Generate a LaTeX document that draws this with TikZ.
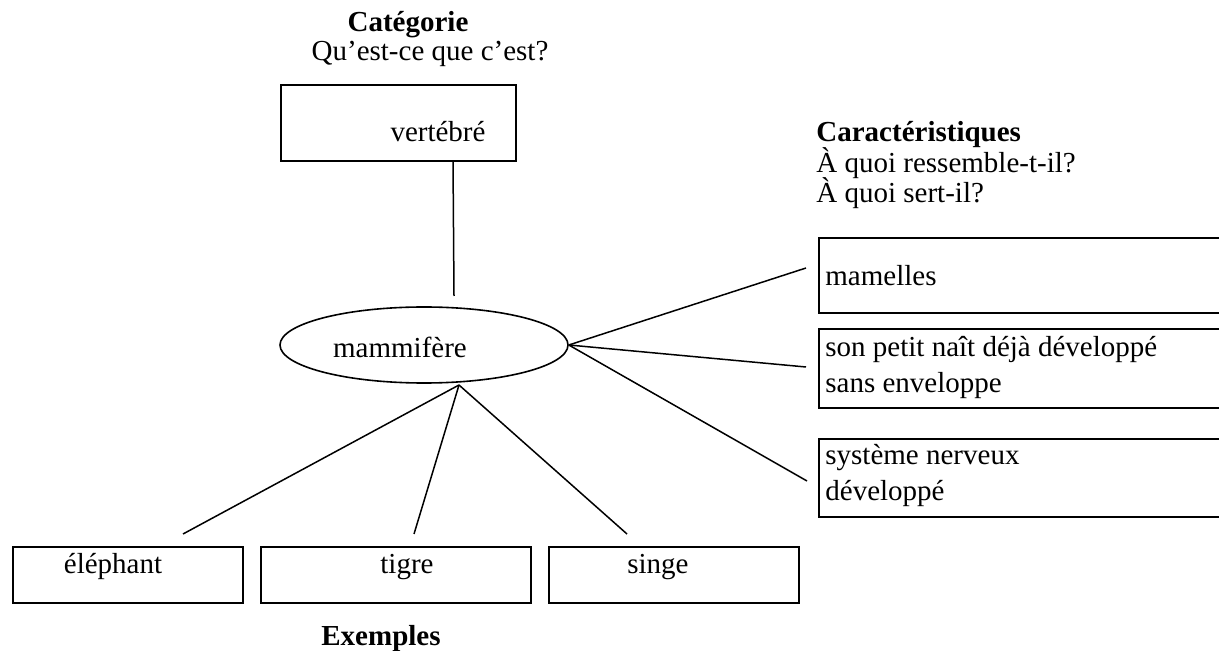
\documentclass[tikz,border=0pt]{standalone}
\usepackage{fontspec}
\setmainfont{Liberation Serif}
\usetikzlibrary{shapes.geometric}
\tikzset{
    concept/.style={
        draw,
        line width=0.8pt,
        rectangle,
        anchor=north west,
        inner sep=0pt,
    },
    word/.style={
        inner sep=0pt,
        anchor=base,
        font=\fontsize{14.5}{17}\selectfont,
    },
    heading/.style={
        word,
        font=\fontsize{14.5}{17}\selectfont\bfseries,
    },
    trait/.style={
        word,
        anchor=base west,
    },
    link/.style={
        line width=0.75pt,
    },
}

\begin{document}
\begin{tikzpicture}[x=0.5pt, y=-0.5pt]
    \useasboundingbox (0, 0) rectangle (1219, 651);
    \clip (0, 0) rectangle (1219, 651);

    % Category, on top
    \node[heading] (cattitle) at (408, 32) {Catégorie};
    \node[word] (catquestion) at (430, 61) {Qu’est-ce que c’est?};
    \node[concept, minimum width=117.5pt, minimum height=38pt] (cat) at (280, 84) {};
    \node[word] at (438, 142) {vertébré};

    % Concept, an ellipse
    \node[draw, ellipse, line width=0.8pt, minimum width=144pt, minimum height=38pt] (mam) at (424, 345) {};
    \node[word] at (400, 358) {mammifère};

    % Characteristics on the right, boxes run off the page
    \node[heading, anchor=base west] (traittitle) at (816, 142) {Caractéristiques};
    \node[trait] (looks) at (816, 173) {À quoi ressemble-t-il?};
    \node[trait] (use) at (816, 203) {À quoi sert-il?};
    \node[concept, minimum width=220pt, minimum height=37.5pt] (t1) at (818, 237) {};
    \node[concept, minimum width=220pt, minimum height=39.5pt] (t2) at (818, 328) {};
    \node[concept, minimum width=220pt, minimum height=39pt] (t3) at (818, 438) {};
    \node[trait] at (825, 286) {mamelles};
    \node[trait] at (825, 357) {son petit naît déjà développé};
    \node[trait] at (825, 393) {sans enveloppe};
    \node[trait] at (825, 465) {système nerveux};
    \node[trait] at (825, 500) {développé};

    % Examples, along the bottom
    \node[concept, minimum width=115pt, minimum height=28pt] (ex1) at (12, 546) {};
    \node[concept, minimum width=135pt, minimum height=28pt] (ex2) at (260, 546) {};
    \node[concept, minimum width=125pt, minimum height=28pt] (ex3) at (548, 546) {};
    \node[word] at (113, 573) {éléphant};
    \node[word] at (407, 573) {tigre};
    \node[word] at (658, 573) {singe};
    \node[heading] (extitle) at (381, 645) {Exemples};

    % Free ends of the links
    \coordinate (up1) at (453, 161);
    \coordinate (up2) at (454, 296);
    \coordinate (r1) at (806, 268);
    \coordinate (r2) at (806, 367);
    \coordinate (r3) at (807, 481);
    \coordinate (d1) at (183, 534);
    \coordinate (d2) at (414, 534);
    \coordinate (d3) at (627, 534);
    \coordinate (hub) at (459, 385);

    \draw[link] (up1) -- (up2);
    \foreach \c in {r1, r2, r3}
        \draw[link] (mam.east) -- (\c);
    \foreach \c in {d1, d2, d3}
        \draw[link] (hub) -- (\c);
\end{tikzpicture}
\end{document}
